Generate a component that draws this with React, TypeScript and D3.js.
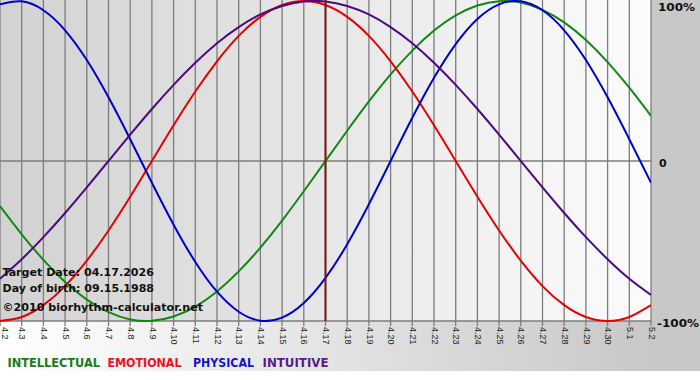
import React from "react";
import * as d3 from "d3";

const dayLabels = ["4.2","4.3","4.4","4.5","4.6","4.7","4.8","4.9","4.10","4.11","4.12","4.13","4.14","4.15","4.16","4.17","4.18","4.19","4.20","4.21","4.22","4.23","4.24","4.25","4.26","4.27","4.28","4.29","4.30","5.1","5.2"];

const intellectual = [-0.282,-0.458,-0.618,-0.756,-0.866,-0.945,-0.990,-0.999,-0.972,-0.910,-0.815,-0.690,-0.541,-0.372,-0.189,0,0.189,0.372,0.541,0.690,0.815,0.910,0.972,0.999,0.990,0.945,0.866,0.756,0.618,0.458,0.282];
const emotional = [-1,-0.975,-0.901,-0.782,-0.623,-0.434,-0.223,0,0.223,0.434,0.623,0.782,0.901,0.975,1,0.975,0.901,0.782,0.623,0.434,0.223,0,-0.223,-0.434,-0.623,-0.782,-0.901,-0.975,-1,-0.975,-0.901];
const physical = [0.979,0.998,0.942,0.817,0.631,0.398,0.136,-0.136,-0.398,-0.631,-0.817,-0.942,-0.998,-0.979,-0.888,-0.731,-0.520,-0.270,0,0.270,0.520,0.731,0.888,0.979,0.998,0.942,0.817,0.631,0.398,0.136,-0.136];
const intuitive = [-0.736,-0.614,-0.476,-0.325,-0.165,0,0.165,0.325,0.476,0.614,0.736,0.837,0.916,0.969,0.997,0.997,0.969,0.916,0.837,0.736,0.614,0.476,0.325,0.165,0,-0.165,-0.325,-0.476,-0.614,-0.736,-0.837];

const targetIndex = 15;
const yTickLabels = [
  { v: 1, t: "100%", x: 658, base: 11, w: 37 },
  { v: 0, t: "0", x: 659, base: 166.5, w: 0 },
  { v: -1, t: "-100%", x: 657, base: 327, w: 42 },
];

const legendItems = [
  { t: "INTELLECTUAL", c: "#1b7b1b", x: 7.5, w: 92.5 },
  { t: "EMOTIONAL", c: "#ee1122", x: 107.5, w: 74 },
  { t: "PHYSICAL", c: "#1414cc", x: 193, w: 61 },
  { t: "INTUITIVE", c: "#5a1a88", x: 262.5, w: 66 },
];

const series = [
  { data: intellectual, c: "#128812" },
  { data: emotional, c: "#e60000" },
  { data: physical, c: "#0000cc" },
  { data: intuitive, c: "#4b0a80" },
];

export default function App() {
  const W = 700, H = 380;
  const x = d3.scaleLinear().domain([0, dayLabels.length - 1]).range([0, 651]);
  const y = d3.scaleLinear().domain([-1, 1]).range([321, 1]);
  const line = d3
    .line<number>()
    .x((_, i) => x(i))
    .y((d) => y(d))
    .curve(d3.curveNatural);
  const font = "'DejaVu Sans', Verdana, sans-serif";

  return (
    <svg
      width={W}
      height={H}
      style={{ position: "absolute", left: 0, top: 0 }}
      xmlns="http://www.w3.org/2000/svg"
    >
      <defs>
        <linearGradient id="outer" x1="0" x2="1" y1="0" y2="0">
          <stop offset="0" stopColor="#ffffff" />
          <stop offset="0.93" stopColor="#c8c8c8" />
          <stop offset="1" stopColor="#c6c6c6" />
        </linearGradient>
        <linearGradient id="plot" x1="0" x2="1" y1="0" y2="0">
          <stop offset="0" stopColor="#d2d2d2" />
          <stop offset="1" stopColor="#fcfcfc" />
        </linearGradient>
        <clipPath id="clip">
          <rect x={0} y={0} width={651} height={322} />
        </clipPath>
      </defs>
      <rect x={0} y={0} width={W} height={H} fill="#ffffff" />
      <rect x={0} y={0} width={W} height={371} fill="url(#outer)" />
      <rect x={651} y={0} width={49} height={371} fill="#c8c8c8" />
      <rect x={0} y={0} width={651} height={321} fill="url(#plot)" />

      {dayLabels.map((_, i) => (
        <line
          key={"g" + i}
          x1={x(i)}
          x2={x(i)}
          y1={0}
          y2={326}
          stroke="#7c7c7c"
          strokeWidth={1.3}
        />
      ))}
      <line x1={0} x2={651} y1={y(0)} y2={y(0)} stroke="#7c7c7c" strokeWidth={1.3} />
      <line x1={0} x2={651} y1={y(-1)} y2={y(-1)} stroke="#7c7c7c" strokeWidth={1.3} />

      <g clipPath="url(#clip)">
        {series.map((s, k) => (
          <path
            key={"s" + k}
            d={line(s.data) || ""}
            fill="none"
            stroke={s.c}
            strokeWidth={2}
          />
        ))}
      </g>

      <line
        x1={x(targetIndex)}
        x2={x(targetIndex)}
        y1={0}
        y2={321}
        stroke="#7a1414"
        strokeWidth={2}
      />

      {dayLabels.map((d, i) => (
        <text
          key={"l" + i}
          transform={`translate(${Math.max(x(i), 4)},327) rotate(90)`}
          dominantBaseline="middle"
          fontFamily="'Liberation Sans', Arial, sans-serif"
          fontSize={9}
          fill="#222"
        >
          {d}
        </text>
      ))}

      {yTickLabels.map((t) => (
        <text
          key={t.t}
          x={t.x}
          y={t.base}
          fontFamily={font}
          fontWeight="bold"
          fontSize={11}
          fill="#111"
          textLength={t.w || undefined}
          lengthAdjust="spacingAndGlyphs"
        >
          {t.t}
        </text>
      ))}

      <g fontFamily={font} fontWeight="bold" fontSize={11} fill="#111">
        <text x={2.5} y={276} textLength={151.5} lengthAdjust="spacingAndGlyphs">
          Target Date: 04.17.2026
        </text>
        <text x={2.5} y={291.5} textLength={151.5} lengthAdjust="spacingAndGlyphs">
          Day of birth: 09.15.1988
        </text>
        <text x={2.5} y={310.5} textLength={200.5} lengthAdjust="spacingAndGlyphs">
          ©2010 biorhythm-calculator.net
        </text>
      </g>

      <g fontFamily={font} fontWeight="bold" fontSize={12.5}>
        {legendItems.map((l) => (
          <text
            key={l.t}
            x={l.x}
            y={366.5}
            fill={l.c}
            textLength={l.w}
            lengthAdjust="spacingAndGlyphs"
          >
            {l.t}
          </text>
        ))}
      </g>
    </svg>
  );
}
